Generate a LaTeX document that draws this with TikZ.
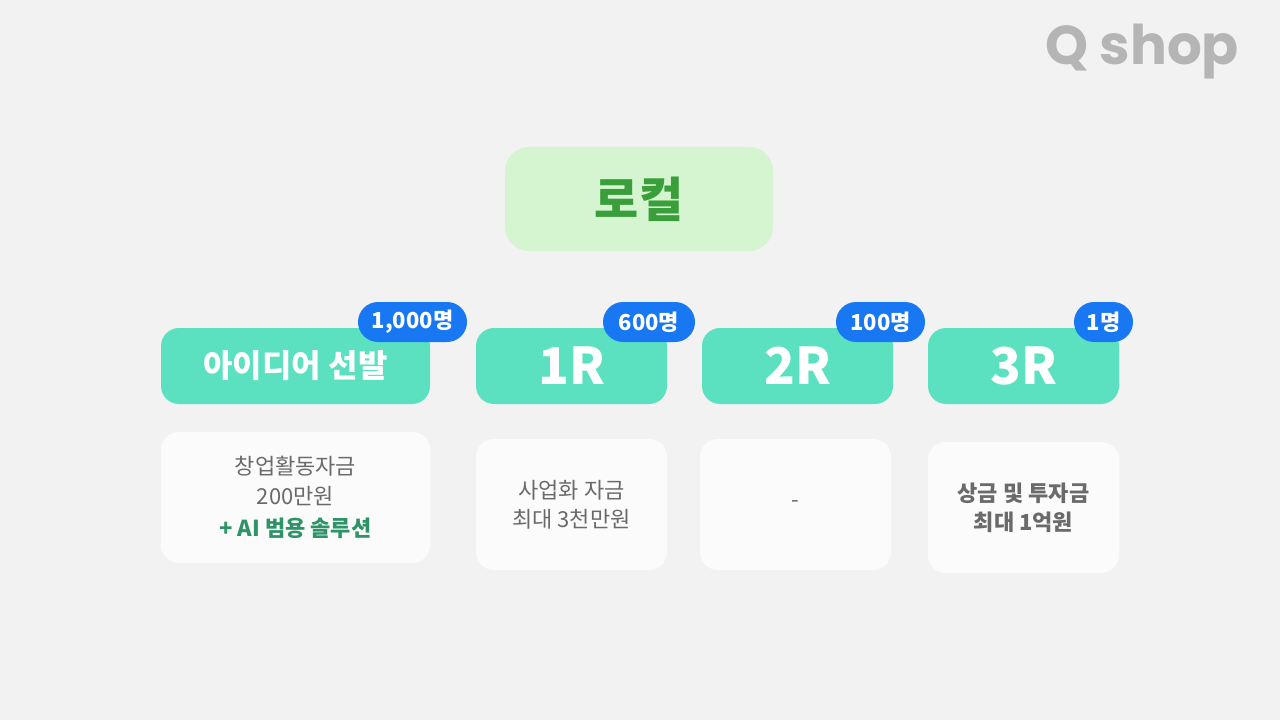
\documentclass[tikz,border=0pt]{standalone}
\usepackage{fontspec}
\setmainfont{Noto Sans CJK KR}
\newfontfamily\logofont{Poppins}
\usetikzlibrary{positioning}
\definecolor{bgGray}{HTML}{F2F2F2}
\definecolor{teal}{HTML}{5CE1C0}
\definecolor{badgeBlue}{HTML}{1877F2}
\definecolor{topGreen}{HTML}{D5F5D0}
\definecolor{darkGreen}{HTML}{3A9E3A}
\definecolor{txtGray}{HTML}{6A6A6A}
\definecolor{solGreen}{HTML}{2E9467}
\definecolor{logoGray}{HTML}{B5B5B5}
\tikzset{
    stage/.style={rectangle, rounded corners=13.5pt, fill=teal, text=white, font=\bfseries, minimum height=57pt, inner sep=0pt},
    badge/.style={rectangle, rounded corners=15pt, fill=badgeBlue, text=white, font=\fontsize{16.5}{18}\selectfont\bfseries, minimum height=30pt, inner sep=0pt},
    info/.style={rectangle, rounded corners=13.5pt, fill=white!60!bgGray!0!white, fill=white, fill opacity=0.75, text opacity=1, text=txtGray, align=center, minimum height=98.25pt, inner sep=0pt, font=\fontsize{16.5}{22}\selectfont},
    title/.style={rectangle, rounded corners=18pt, fill=topGreen, text=darkGreen, font=\fontsize{36}{40}\selectfont\bfseries, minimum width=201pt, minimum height=78pt}
}
\begin{document}
\begin{tikzpicture}[x=0.75pt, y=-0.75pt]
    % Background
    \fill[bgGray] (0,0) rectangle (1280,720);
    \node[text=logoGray, font=\logofont\fontsize{41}{44}\selectfont\bfseries] (Logo) at (1142,52) {Q shop};

    % Title
    \node[title] (Local) at (639,199) {로컬};

    % Stages
    \node[stage, minimum width=201.75pt, font=\fontsize{24}{28}\selectfont\bfseries] (Idea) at (295.5,366) {아이디어 선발};
    \node[stage, minimum width=143.25pt, font=\fontsize{38}{42}\selectfont\bfseries] (RoundA) at (571.5,366) {1R};
    \node[stage, minimum width=143.25pt, font=\fontsize{38}{42}\selectfont\bfseries] (RoundB) at (797.5,366) {2R};
    \node[stage, minimum width=143.25pt, font=\fontsize{38}{42}\selectfont\bfseries] (RoundC) at (1023.5,366) {3R};

    % Badges
    \node[badge, minimum width=81.75pt] (IdeaCnt) at (412.5,322) {1,000명};
    \node[badge, minimum width=69pt] (RoundACnt) at (649,322) {600명};
    \node[badge, minimum width=66.75pt] (RoundBCnt) at (880.5,322) {100명};
    \node[badge, minimum width=44.25pt] (RoundCCnt) at (1103.5,322) {1명};

    % Rewards
    \node[info, minimum width=201.75pt] (IdeaPrize) at (295.5,497.5) {창업활동자금\\200만원\\[2pt]{\color{solGreen}\bfseries + AI 범용 솔루션}};
    \node[info, minimum width=143.25pt] (RoundAPrize) at (571.5,504.5) {사업화 자금\\최대 3천만원};
    \node[info, minimum width=143.25pt] (RoundBPrize) at (795.5,504.5) {-};
    \node[info, minimum width=143.25pt, font=\fontsize{16.5}{22}\selectfont\bfseries] (RoundCPrize) at (1023.5,507.5) {상금 및 투자금\\최대 1억원};
\end{tikzpicture}
\end{document}
